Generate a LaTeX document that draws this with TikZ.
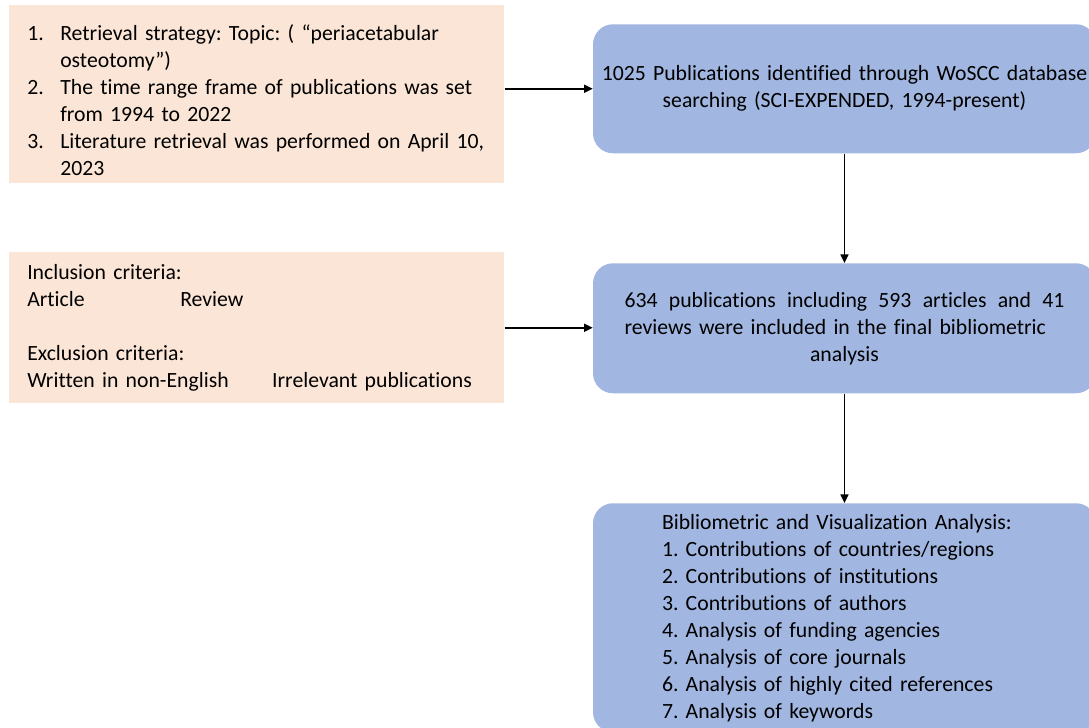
\documentclass[tikz,border=0pt]{standalone}
\usepackage{fontspec}
\setmainfont{Carlito}[Ligatures={NoCommon}]
\definecolor{PrPeach}{HTML}{FBE5D6}
\definecolor{PrBlue}{HTML}{A1B6E0}
\usepackage{tikz}
\usetikzlibrary{arrows.meta,positioning,calc}
\frenchspacing

\begin{document}
\begin{tikzpicture}[x=0.75pt,y=-0.75pt,
      peachbox/.style={fill=PrPeach,draw=none,anchor=north west,align=left,
                       text width=344.25pt,inner xsep=13.5pt,inner ysep=0pt,
                       font=\fontsize{16.3pt}{20.25pt}\selectfont},
      bluebox/.style={fill=PrBlue,draw=none,rounded corners=15pt,anchor=north,
                      text width=370pt,inner xsep=3.6pt,align=center,
                      font=\fontsize{16.3pt}{20.25pt}\selectfont},
      flow/.style={-{Triangle[length=6.5pt,width=6pt]},line width=1.2pt,draw=black}]
    \useasboundingbox (0,0) rectangle (1089,728);
    \clip (0,0) rectangle (1089,728);
    % left column: search settings
    \node[peachbox,minimum height=133.5pt] (strategy) at (9,5) {%
      \rule{0pt}{21pt}\makebox[24.75pt][l]{1.}Retrieval strategy: Topic: ( “periacetabular\\
      \hspace*{24.75pt}osteotomy\char"22)\\
      \makebox[24.75pt][l]{2.}The time range frame of publications was set\\
      \hspace*{24.75pt}from 1994 to 2022\\
      \makebox[24.75pt][l]{3.}Literature retrieval was performed on April 10,\\
      \hspace*{24.75pt}2023};
    \node[peachbox,minimum height=113.25pt] (criteria) at (9,252) {%
      Inclusion criteria:\\
      \makebox[114.75pt][l]{Article}Review\\[20.25pt]
      Exclusion criteria:\\
      \makebox[183.75pt][l]{Written in non-English}Irrelevant publications};
    % right column: screening flow
    \node[bluebox,minimum height=96.75pt] (found) at (844.5,24) {%
      1025 Publications identified through WoSCC database\\
      searching (SCI-EXPENDED, 1994-present)};
    \node[bluebox,minimum height=97.5pt] (included) at (844.5,263) {%
      \leavevmode\hbox to 330pt{634\hfill publications\hfill including\hfill 593\hfill
        articles\hfill and\hfill 41}\\
      \makebox[330pt][l]{reviews were included in the final bibliometric}\\
      analysis};
    \node[bluebox,align=left,text width=273.75pt,inner xsep=51.75pt,inner ysep=8pt]
      (analysis) at (844.5,503) {%
      Bibliometric and Visualization Analysis:\\
      1. Contributions of countries/regions\\
      2. Contributions of institutions\\
      3. Contributions of authors\\
      4. Analysis of funding agencies\\
      5. Analysis of core journals\\
      6. Analysis of highly cited references\\
      7. Analysis of keywords};
    \draw[flow] (found.west -| strategy.east) -- (found.west);
    \draw[flow] (criteria.east) -- (criteria.east -| included.west);
    \draw[flow] (found) -- (included);
    \draw[flow] (included) -- (analysis);
  \end{tikzpicture}
\end{document}
